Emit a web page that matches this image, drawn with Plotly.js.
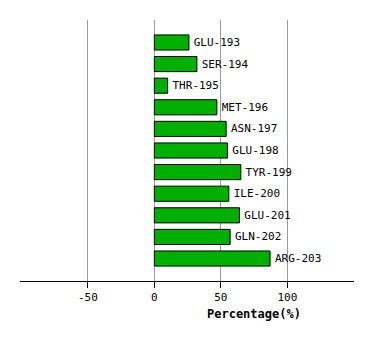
<!DOCTYPE html>
<html>
<head>
<meta charset="utf-8">
<script src="https://cdn.plot.ly/plotly-3.0.1.min.js"></script>
<style>html,body{margin:0;padding:0;background:#fff;}#chart{width:374px;height:340px;}</style>
</head>
<body>
<div id="chart"></div>
<script>
const residues = ["GLU-193","SER-194","THR-195","MET-196","ASN-197","GLU-198","TYR-199","ILE-200","GLU-201","GLN-202","ARG-203"];
const percentages = [26, 32, 10, 47, 54, 55, 65, 56, 64, 57, 87];
const xTicks = [-50, 0, 50, 100];
const xTitle = "Percentage(%)";

const mono = "DejaVu Sans Mono, Liberation Mono, monospace";

const trace = {
  type: "bar",
  orientation: "h",
  x: percentages,
  y: residues,
  width: 0.7,
  marker: {color: "#00b000", line: {color: "#000000", width: 1}},
  text: residues.map(r => "<span style=\"font-size:3px\"> </span>" + r),
  textposition: "outside",
  cliponaxis: false,
  textfont: {family: mono, size: 11, color: "#000"},
  hoverinfo: "none"
};

const layout = {
  width: 374,
  height: 340,
  margin: {l: 20, r: 20, t: 20, b: 59},
  paper_bgcolor: "#ffffff",
  plot_bgcolor: "#ffffff",
  showlegend: false,
  font: {family: mono, size: 11, color: "#000"},
  xaxis: {
    range: [-101, 150.1],
    tickvals: xTicks,
    ticktext: xTicks.map(String),
    showgrid: true,
    gridcolor: "#999999",
    gridwidth: 1,
    zeroline: false,
    showline: true,
    linecolor: "#000000",
    linewidth: 1,
    ticks: "outside",
    ticklen: 6,
    tickcolor: "#000000",
    tickfont: {family: mono, size: 11, color: "#000"},
    fixedrange: true
  },
  yaxis: {
    type: "category",
    categoryorder: "array",
    categoryarray: residues,
    range: [11.04, -1.04],
    showticklabels: false,
    showgrid: false,
    zeroline: false,
    showline: false,
    ticks: "",
    fixedrange: true
  },
  annotations: [{
    text: "<b>" + xTitle + "</b>",
    xref: "x",
    yref: "paper",
    x: 75,
    y: 0,
    yshift: -33,
    showarrow: false,
    xanchor: "center",
    yanchor: "middle",
    font: {family: mono, size: 12, color: "#000"}
  }]
};

Plotly.newPlot("chart", [trace], layout, {displayModeBar: false, staticPlot: true});
</script>
</body>
</html>
